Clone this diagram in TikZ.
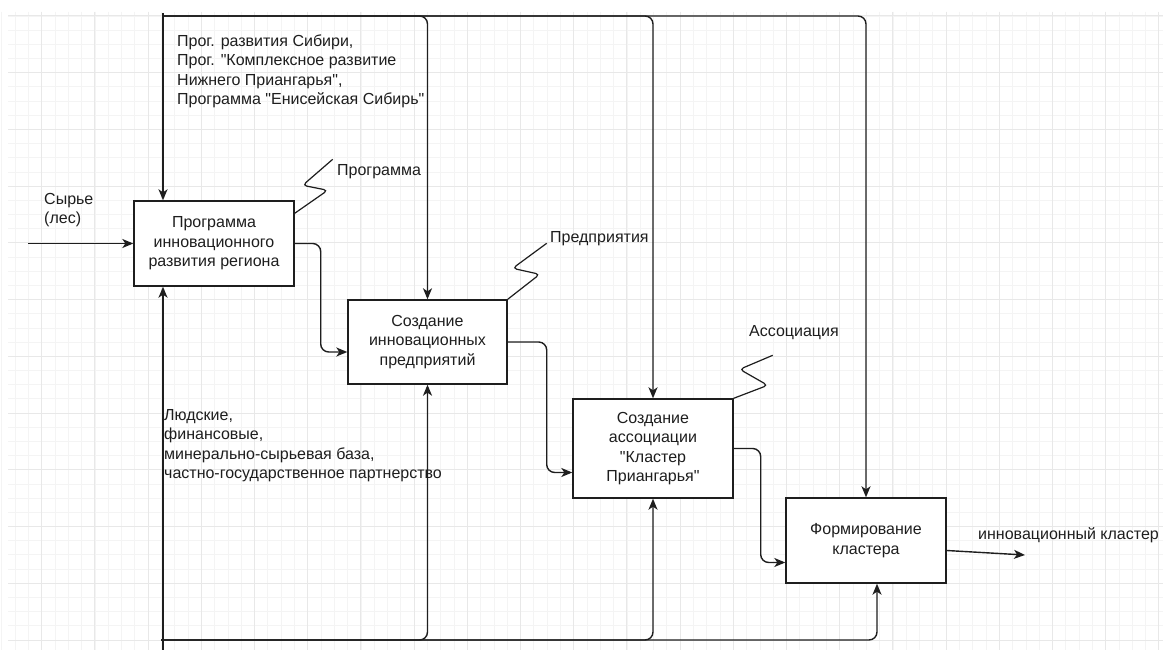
\documentclass[tikz,border=0pt]{standalone}
\usepackage{fontspec}
\setmainfont{Liberation Sans}[Ligatures=TeXOff]
\usetikzlibrary{arrows.meta,calc}
\definecolor{ink}{HTML}{1E1E1E}
\definecolor{gmaj}{HTML}{E8E8E8}
\definecolor{gmin}{HTML}{F4F4F4}
\begin{document}
\begin{tikzpicture}[x=1pt,y=-1pt,
  txt/.style={font=\fontsize{16}{19.5}\selectfont, text=ink, inner sep=0pt},
  lbl/.style={txt, align=left},
  blk/.style={txt, draw=ink, line width=1.4pt, fill=white, align=center,
    minimum width=160pt, minimum height=85pt},
  conn/.style={draw=ink, line width=1.4pt, rounded corners=8pt},
  arr/.style={conn, -{Stealth[length=11pt,width=9pt,inset=3pt]}},
  sq/.style={draw=ink, line width=1.2pt, rounded corners=4pt},
  gminor/.style={draw=gmin, line width=0.8pt},
  gmajor/.style={draw=gmaj, line width=1pt}]
\useasboundingbox (0,0) rectangle (1163,650);
\fill[white] (0,0) rectangle (1163,650);
% grid
\foreach \i in {0,...,86} {\draw[gminor] ({1.8+13.3*\i},12) -- ({1.8+13.3*\i},650);}
\foreach \i in {0,...,44} {\draw[gminor] (8,{16+14.18*\i}) -- (1163,{16+14.18*\i});}
\foreach \i in {0,...,21} {\draw[gmajor] ({41.7+53.2*\i},12) -- ({41.7+53.2*\i},650);}
\foreach \i in {0,...,11} {\draw[gmajor] (8,{16+56.73*\i}) -- (1163,{16+56.73*\i});}

% boxes
\node[blk] (b1) at (214,243.5) {Программа\\инновационного\\развития региона};
\node[blk, minimum width=159pt, minimum height=84pt] (b2) at (427.5,342) {Создание\\инновационных\\предприятий};
\node[blk, minimum height=99pt] (b3) at (653,448.5) {Создание\\ассоциации\\"Кластер\\Приангарья"};
\node[blk] (b4) at (866,540.5) {Формирование\\кластера};

% labels
\node[lbl, anchor=west] (ltop) at (177,71.5) {Прог. развития Сибири,\\Прог. "Комплексное развитие\\Нижнего Приангарья",\\Программа "Енисейская Сибирь"};
\node[lbl, anchor=west] (lin) at (44,210) {Сырье\\(лес)};
\node[lbl, anchor=west] (lres) at (164,445.5) {Людские,\\финансовые,\\минерально-сырьевая база,\\частно-государственное партнерство};
\node[lbl, anchor=west] (lprog) at (337,172) {Программа};
\node[lbl, anchor=west] (lpred) at (550,239) {Предприятия};
\node[lbl, anchor=west] (lassoc) at (749,333) {Ассоциация};
\node[lbl, anchor=west] (lout) at (978,535) {инновационный кластер};

% coordinates
\coordinate (in) at (28,243.5);
\coordinate (out) at (1025,555);
\coordinate (topL) at (163,13);
\coordinate (topH) at (162,16);
\coordinate (botL) at (163,652);
\coordinate (botH) at (161,640);

% input / outputs
\draw[arr] (in) -- (in -| b1.west);
\draw[arr] (b1.east) -- ++(26,0) |- ([yshift=-10pt]b2.west);
\draw[arr] (b2.east) -- ++(39,0) |- ([yshift=-24pt]b3.west);
\draw[arr] (b3.east) -- ++(27,0) |- ([yshift=-22pt]b4.west);
\draw[arr] ([yshift=-10pt]b4.east) -- (out);

% controls (top)
\draw[arr] (topL) -- (topL |- b1.north);
\draw[arr] (topH) -| (b2.north);
\draw[arr] (topH) -| (b3.north);
\draw[arr] (topH) -| (b4.north);

% mechanisms (bottom)
\draw[arr] (botL) -- (botL |- b1.south);
\draw[arr] (botH) -| (b2.south);
\draw[arr] (botH) -| (b3.south);
\draw[arr] (botH) -| ([xshift=11pt]b4.south);

% squiggles
\draw[sq] ([yshift=-13pt]b1.north east) -- ++(33,-23) -- ++(-25,-5) -- ++(30,-26);
\draw[sq] (b2.north east) -- ++(32,-25) -- ++(-27,-6) -- ++(34,-25);
\draw[sq] (b3.north east) -- ++(34,-13) -- ++(-28,-16) -- ++(33,-14);
\end{tikzpicture}
\end{document}
